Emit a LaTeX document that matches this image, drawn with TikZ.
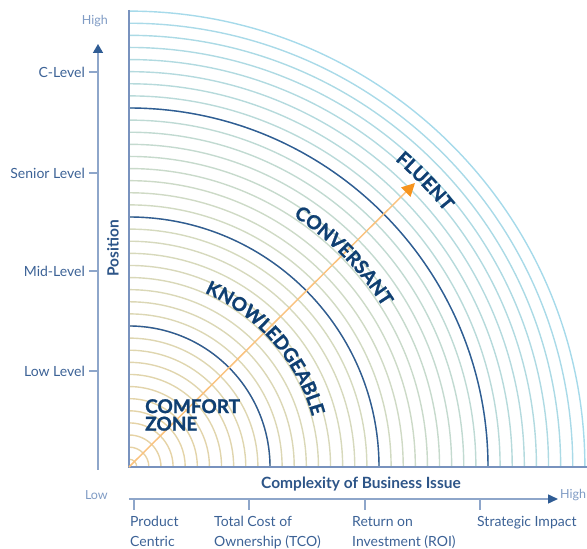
\documentclass[tikz,border=0pt]{standalone}
\usepackage{fontspec}
\setmainfont{Lato}
\newfontfamily\heavyfont{Lato}[BoldFeatures={FakeBold=1.3}]
\usetikzlibrary{decorations.text,arrows.meta}
\definecolor{navy}{HTML}{0F3F72}
\definecolor{darkarc}{HTML}{2F5C94}
\definecolor{axisc}{HTML}{8EA6CA}
\definecolor{framec}{HTML}{7892BE}
\definecolor{labc}{HTML}{3C6296}
\definecolor{poslab}{HTML}{2D5588}
\definecolor{lowc}{HTML}{7F9BC4}
\definecolor{arcin}{HTML}{E8D2A2}
\definecolor{arcmid}{HTML}{D4DAC0}
\definecolor{arcout}{HTML}{A6DAEA}
\definecolor{orangel}{HTML}{FAC27E}
\definecolor{oranged}{HTML}{F7941D}
\tikzset{
  lightarc/.style={line width=1.4pt},
  darkarcs/.style={line width=1.4pt, draw=darkarc},
  ticklab/.style={font=\fontsize{14}{16}\selectfont, text=labc, inner sep=0pt},
  endlab/.style={font=\fontsize{12.5}{14}\selectfont, text=lowc, inner sep=0pt},
  botlab/.style={font=\fontsize{14}{20}\selectfont, text=labc, inner sep=0pt, align=left, anchor=north west},
  arclab/.style={decorate, decoration={text along path, text align=center, text={|\heavyfont\fontsize{19}{19}\bfseries\color{navy}|#1}}},
  zonelab/.style={font=\heavyfont\fontsize{19}{17.5}\bfseries\selectfont, text=navy, inner sep=0pt, align=left, anchor=north west},
  axislab/.style={font=\fontsize{15.5}{17}\bfseries\selectfont, text=poslab, inner sep=0pt},
}
\begin{document}
\begin{tikzpicture}[x=1pt,y=1pt]
\useasboundingbox (-129,-82) rectangle (458,467);
% light arcs
\foreach \k in {0,...,37}{
  \pgfmathsetmacro{\r}{7.78+12.111*\k}
  \pgfmathsetmacro{\t}{\k<20 ? 100*\k/20 : 0}
  \pgfmathsetmacro{\u}{\k<20 ? 0 : 100*(\k-20)/17}
  \ifnum\k<20
    \colorlet{cc}{arcmid!\t!arcin}
  \else
    \colorlet{cc}{arcout!\u!arcmid}
  \fi
  \draw[lightarc, draw=cc] (\r,0) arc (0:90:\r);
}
% dark arcs
\foreach \r in {141,250,359}{
  \draw[darkarcs] (\r,0) arc (0:90:\r);
}
% frame
\coordinate (O) at (0,0);
\coordinate (T) at (0,457);
\coordinate (R) at (458,0);
\draw[framec, line width=1.3pt] (T) -- (O) -- (R);
% orange arrow
\coordinate (A) at (286,284);
\draw[orangel, line width=1.5pt, -{Triangle[length=13pt,width=13pt,color=oranged]}] (O) -- (A);
% arc labels
\path[arclab={KNOWLEDGEABLE}] (72:190) arc (72:10:190);
\path[arclab={CONVERSANT}] (66:300) arc (66:23:300);
\path[arclab={FLUENT}] (56:406) arc (56:32:406);
\node[zonelab] (cz) at (16,68) {COMFORT\\ZONE};
% vertical axis
\coordinate (VB) at (-31,-3);
\coordinate (VT) at (-31,423);
\draw[axisc, line width=1.5pt, -{Triangle[length=9pt,width=10pt,color=darkarc]}] (VB) -- (VT);
\node[endlab, anchor=east] (vh) at (-21,446) {High};
\foreach \y/\n/\t in {395/cl/C-Level, 294/sl/Senior Level, 196/ml/Mid-Level, 96/ll/Low Level}{
  \coordinate (tk\n) at (-40,\y);
  \draw[axisc, line width=1.3pt] (tk\n) -- (-31,\y);
  \node[ticklab, anchor=east] (\n) at (-44,\y) {\t};
}
\node[axislab, rotate=90] (pos) at (-16,219) {Position};
% horizontal axis
\coordinate (HL) at (0,-32);
\coordinate (HR) at (429,-32);
\draw[axisc, line width=1.5pt, -{Triangle[length=10pt,width=9pt,color=darkarc]}] (HL) -- (HR);
\node[endlab, anchor=east] (hl) at (-21,-28) {Low};
\node[endlab, anchor=west] (hh) at (431,-28) {High};
\node[axislab] (cbi) at (232,-17) {Complexity of Business Issue};
\foreach \x/\n in {5/pc, 120/tco, 236/roi, 351/si}{
  \coordinate (bt\n) at (\x,-32);
  \draw[axisc, line width=1.3pt] (bt\n) -- (\x,-43);
}
\node[botlab] (pc) at (1,-49) {Product\\Centric};
\node[botlab] (tco) at (85,-49) {Total Cost of\\Ownership (TCO)};
\node[botlab] (roi) at (223,-49) {Return on\\Investment (ROI)};
\node[botlab] (si) at (348,-49) {Strategic Impact};
\end{tikzpicture}
\end{document}
